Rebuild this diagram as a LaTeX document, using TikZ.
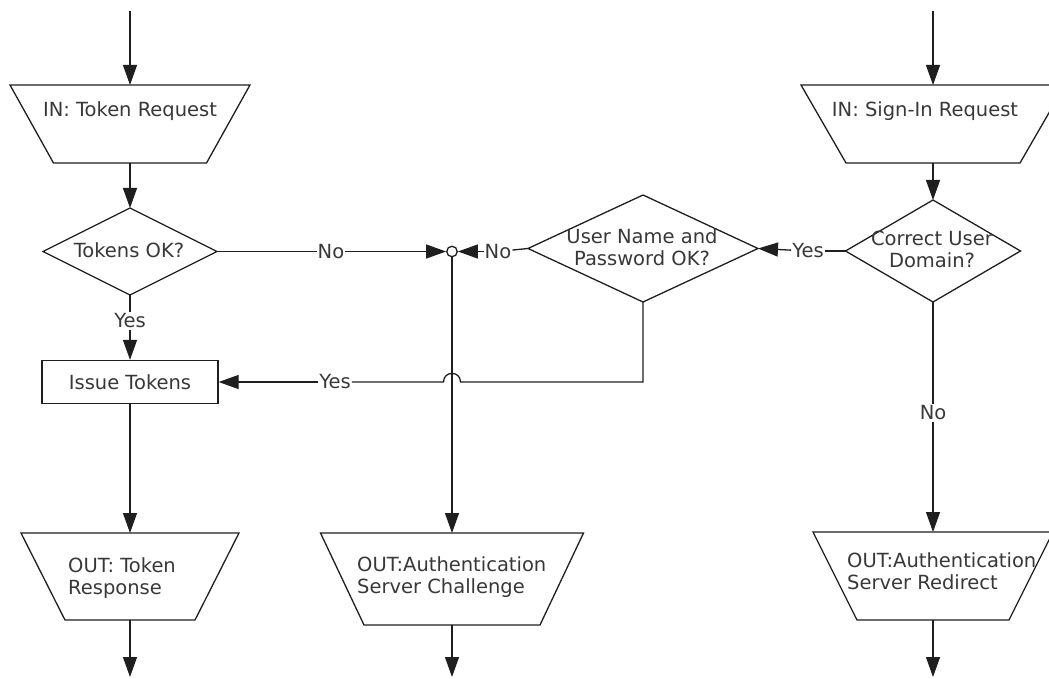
\documentclass[tikz,border=0pt]{standalone}
\usepackage{fontspec}
\setmainfont{DejaVu Sans}
\usetikzlibrary{arrows.meta}
\tikzset{
  ln/.style={draw=black!88, line width=1.3pt},
  shp/.style={ln, fill=white, line join=miter},
  arr/.style={ln, -{Triangle[length=20pt,width=14pt]}},
  txt/.style={font=\fontsize{19.5}{22.5}\selectfont, text=black!78, inner sep=0pt},
  lbl/.style={txt, fill=white, inner xsep=1pt, inner ysep=2pt},
  boxshape/.style={shp, txt, minimum width=176pt, minimum height=43pt},
  junc/.style={circle, ln, fill=white, minimum size=10.5pt, inner sep=0pt}
}
\newcommand\trapz[6]{%
  \draw[shp] (#2-#5,#3) -- (#2+#5,#3) -- (#2+#6,#4) -- (#2-#6,#4) -- cycle;
  \coordinate (#1-n) at (#2,#3);
  \coordinate (#1-s) at (#2,#4);}
\newcommand\diamd[5]{%
  \draw[shp] (#2,#3-#5) -- (#2+#4,#3) -- (#2,#3+#5) -- (#2-#4,#3) -- cycle;
  \coordinate (#1-n) at (#2,#3-#5);
  \coordinate (#1-s) at (#2,#3+#5);
  \coordinate (#1-e) at (#2+#4,#3);
  \coordinate (#1-w) at (#2-#4,#3);}
\begin{document}
\begin{tikzpicture}[x=1pt,y=-1pt]
\fill[white] (0,0) rectangle (1049,679);
\useasboundingbox (0,0) rectangle (1049,679);

% shapes
\trapz{in1}{130}{85}{163}{120}{76.5}
\trapz{in2}{933}{85}{163}{132}{87}
\diamd{d1}{130}{251.5}{87}{43.5}
\diamd{d2}{643}{248.5}{115}{53.5}
\diamd{d3}{933}{251}{87.5}{51}
\node[boxshape] (box) at (130,382) {Issue Tokens};
\trapz{out1}{130}{533}{620}{109}{65}
\trapz{out2}{452}{533}{625}{131.5}{88}
\trapz{out3}{933}{532}{620}{120}{76}

% texts
\node[txt, anchor=base] (tin1) at (130,117) {IN: Token Request};
\node[txt, anchor=base] (tin2) at (925,117) {IN: Sign-In Request};
\node[txt, anchor=base] (td1) at (129,257) {Tokens OK?};
\node[txt, anchor=north, align=center] (td2) at (642,228.2) {User Name and\\Password OK?};
\node[txt, anchor=north, align=center] (td3) at (932,230.6) {Correct User\\Domain?};
\node[txt, anchor=north west, align=left] (tout1) at (68,557.2) {OUT: Token\\Response};
\node[txt, anchor=north west, align=left] (tout2) at (357,556.2) {OUT:Authentication\\Server Challenge};
\node[txt, anchor=north west, align=left] (tout3) at (847,552.2) {OUT:Authentication\\Server Redirect};

% entry and exit points
\coordinate (start1) at (130,11);
\coordinate (start2) at (933,11);
\coordinate (end1) at (130,677);
\coordinate (end2) at (452,677);
\coordinate (end3) at (933,677);

% junction
\node[junc] (j) at (452,251.5) {};

% labels
\node[lbl] (noA) at (331,251.5) {No};
\node[lbl] (noB) at (498,251.5) {No};
\node[lbl] (yesA) at (808,251) {Yes};
\node[lbl] (yesB) at (130,321) {Yes};
\node[lbl] (yesC) at (335,382) {Yes};
\node[lbl] (noC) at (933,413) {No};

% connectors
\draw[arr] (start1) -- (in1-n);
\draw[arr] (start2) -- (in2-n);
\draw[arr] (in1-s) -- (d1-n);
\draw[arr] (in2-s) -- (d3-n);
\draw[ln] (d1-s) -- (yesB);
\draw[arr] (yesB) -- (box);
\draw[ln] (d1-e) -- (noA);
\draw[arr] (noA) -- (j);
\draw[ln] (d2-w) -- (noB);
\draw[arr] (noB) -- (j);
\draw[ln] (d3-w) -- (yesA);
\draw[arr] (yesA) -- (d2-e);
\draw[arr] (j) -- (out2-n);
\coordinate (jr) at (460.5,382);
\coordinate (jl) at (443.5,382);
\draw[ln] (d2-s) |- (jr) .. controls (460.5,370.5) and (443.5,370.5) .. (jl) -- (yesC);
\draw[arr] (yesC) -- (box);
\draw[ln] (d3-s) -- (noC);
\draw[arr] (noC) -- (out3-n);
\draw[arr] (box) -- (out1-n);
\draw[arr] (out1-s) -- (end1);
\draw[arr] (out2-s) -- (end2);
\draw[arr] (out3-s) -- (end3);
\end{tikzpicture}
\end{document}
